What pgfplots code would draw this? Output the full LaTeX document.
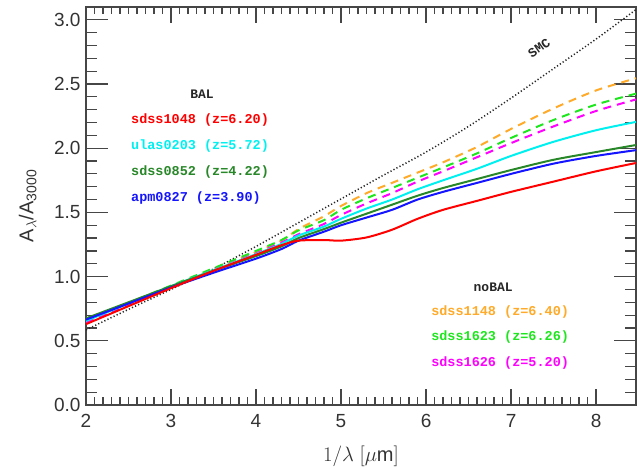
\documentclass[border=0pt]{standalone}
\usepackage{pgfplots}
\pgfplotsset{compat=1.18}
\usepackage{pgfplotstable}
\usepackage{fontspec}
\setmainfont{Liberation Sans}
\newfontfamily\labfont{Liberation Mono}
\usetikzlibrary{calc}

\definecolor{cRed}{RGB}{255,0,0}
\definecolor{cCyan}{RGB}{0,240,240}
\definecolor{cDkGreen}{RGB}{40,135,40}
\definecolor{cBlue}{RGB}{20,20,255}
\definecolor{cOrange}{RGB}{255,170,40}
\definecolor{cGreen}{RGB}{30,230,30}
\definecolor{cMagenta}{RGB}{255,0,255}
\definecolor{cTick}{RGB}{70,70,70}

% extinction curves, A_lambda / A_3000
\pgfplotstableread{
x     red   cyan  dkg   blue  orng  grn   mag
2.0   0.630 0.655 0.675 0.665 0.635 0.660 0.645
2.5   0.770 0.790 0.800 0.790 0.775 0.795 0.780
3.0   0.910 0.925 0.925 0.915 0.920 0.930 0.920
3.5   1.045 1.050 1.045 1.030 1.055 1.065 1.050
4.0   1.170 1.175 1.160 1.140 1.190 1.200 1.180
4.3   1.245 1.255 1.235 1.215 1.280 1.285 1.265
4.5   1.280 1.320 1.300 1.280 1.370 1.360 1.330
4.8   1.285 1.390 1.370 1.350 1.470 1.440 1.410
5.0   1.280 1.450 1.420 1.400 1.550 1.520 1.480
5.3   1.305 1.530 1.490 1.460 1.650 1.610 1.570
5.6   1.365 1.600 1.560 1.520 1.730 1.690 1.650
5.9   1.450 1.680 1.630 1.600 1.810 1.770 1.740
6.2   1.520 1.750 1.690 1.660 1.890 1.850 1.820
6.6   1.590 1.840 1.760 1.730 2.010 1.960 1.930
7.0   1.660 1.940 1.830 1.800 2.150 2.080 2.040
7.5   1.740 2.050 1.910 1.880 2.310 2.220 2.170
8.0   1.820 2.140 1.970 1.940 2.450 2.340 2.290
8.47  1.885 2.205 2.025 1.985 2.545 2.425 2.380
}\curves

\pgfplotstableread{
x     y
2.0   0.585
2.5   0.745
3.0   0.900
3.5   1.060
4.0   1.235
4.5   1.420
5.0   1.605
5.5   1.790
6.0   1.970
6.5   2.170
7.0   2.390
7.5   2.620
8.0   2.850
8.47  3.080
}\smc

\begin{document}
\begin{tikzpicture}
\begin{axis}[
  scale only axis, width=550pt, height=398pt,
  xmin=2, xmax=8.47, ymin=0, ymax=3.1,
  xtick={2,3,...,8}, minor x tick num=9,
  ytick={0,0.5,...,3.0}, minor y tick num=4,
  yticklabel style={/pgf/number format/fixed, /pgf/number format/fixed zerofill,
    /pgf/number format/precision=1, xshift=-2pt},
  /pgf/number format/assume math mode=true,
  tick align=inside,
  major tick length=18pt, minor tick length=9pt,
  xtick style={/pgfplots/major tick length=16pt, /pgfplots/minor tick length=7.5pt},
  ytick style={/pgfplots/major tick length=22pt, /pgfplots/minor tick length=11pt},
  tick style={draw=cTick, line width=1.2pt},
  axis line style={draw=cTick, line width=1.3pt},
  ticklabel style={font=\fontsize{19}{20}\selectfont, text=black!80},
  xticklabel style={yshift=-6pt},
  xlabel={$1/\lambda\ [\mu\mathrm{m}]$},
  ylabel={A\textsubscript{$\lambda$}/A\textsubscript{3000}},
  xlabel style={font=\fontsize{20}{22}\selectfont, text=black!80,
    at={(axis description cs:0.5,-0.128)}, anchor=center},
  ylabel style={font=\fontsize{20}{22}\selectfont, text=black!80,
    at={(axis description cs:-0.106,0.5)}, anchor=center},
  every axis plot/.append style={line width=2pt, smooth, tension=0.45},
]
\addplot[black!85, line width=1.5pt, dash pattern=on 1.2pt off 2.2pt] table[x=x,y=y] {\smc};
\addplot[cOrange, dash pattern=on 8pt off 6pt] table[x=x,y=orng] {\curves};
\addplot[cGreen, dash pattern=on 8pt off 6pt] table[x=x,y=grn] {\curves};
\addplot[cMagenta, dash pattern=on 8pt off 6pt] table[x=x,y=mag] {\curves};
\addplot[cCyan] table[x=x,y=cyan] {\curves};
\addplot[cDkGreen] table[x=x,y=dkg] {\curves};
\addplot[cBlue] table[x=x,y=blue] {\curves};
\addplot[cRed] table[x=x,y=red] {\curves};

\node[font=\labfont\bfseries\fontsize{13}{14}\selectfont, text=black!85, rotate=35]
  at (axis cs:7.33,2.78) {SMC};
\node[font=\labfont\bfseries\fontsize{13}{14}\selectfont, text=black!85]
  at (axis cs:3.365,2.42) {BAL};
\begin{scope}[every node/.style={anchor=west, font=\labfont\bfseries\fontsize{13.5}{14}\selectfont}]
\node[text=cRed]     at (axis cs:2.49,2.218) {sdss1048 (z=6.20)};
\node[text=cCyan]    at (axis cs:2.49,2.016) {ulas0203 (z=5.72)};
\node[text=cDkGreen] at (axis cs:2.49,1.813) {sdss0852 (z=4.22)};
\node[text=cBlue]    at (axis cs:2.49,1.611) {apm0827 (z=3.90)};
\node[text=cOrange]  at (axis cs:6.02,0.725) {sdss1148 (z=6.40)};
\node[text=cGreen]   at (axis cs:6.02,0.530) {sdss1623 (z=6.26)};
\node[text=cMagenta] at (axis cs:6.02,0.330) {sdss1626 (z=5.20)};
\end{scope}
\node[font=\labfont\bfseries\fontsize{13}{14}\selectfont, text=black!85]
  at (axis cs:6.79,0.92) {noBAL};
\end{axis}
\pgfresetboundingbox
\useasboundingbox ($(current axis.south west)+(-86pt,-64pt)$) rectangle ($(current axis.north east)+(1pt,7pt)$);
\end{tikzpicture}
\end{document}
